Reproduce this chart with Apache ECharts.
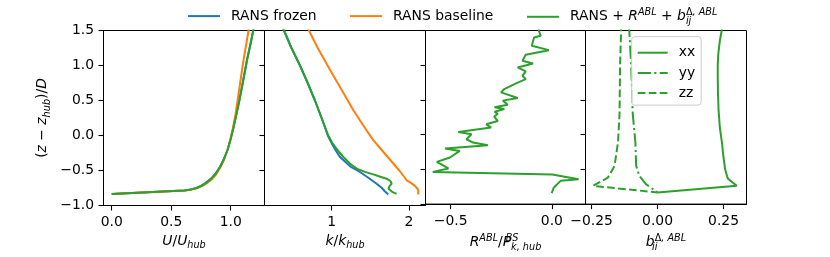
<!DOCTYPE html>
<html><head><meta charset="utf-8">
<script src="https://cdn.jsdelivr.net/npm/echarts@6/dist/echarts.min.js"></script>
<style>html,body{margin:0;padding:0;background:#fff}#c{width:830px;height:257px}</style>
</head><body><div id="c"></div>
<script>
// ---------------- data ----------------
const nameFrozen = 'RANS frozen';
const nameBaseline = 'RANS baseline';
const nameABL = 'RANS + R^ABL + b_ij^Δ,ABL';
const compNames = ['xx', 'yy', 'zz'];

const yTicks = [-1.0, -0.5, 0.0, 0.5, 1.0, 1.5];
const uTicks = [0.0, 0.5, 1.0];
const kTicks = [1, 2];
const rTicks = [-0.5, 0.0];
const bTicks = [-0.25, 0.0, 0.25];

// panel 1: U/U_hub
const uZ        = [-0.835,-0.80,-0.785,-0.77,-0.75,-0.72,-0.68,-0.62,-0.55,-0.45,-0.35,-0.2,-0.05,0.1,0.3,0.5,0.7,0.9,1.1,1.3,1.5,1.6];
const uFrozen   = [0.0,0.43,0.61,0.665,0.71,0.75,0.787,0.833,0.871,0.909,0.939,0.974,0.999,1.021,1.047,1.072,1.095,1.117,1.139,1.165,1.189,1.199];
const uBaseline = [0.0,0.43,0.61,0.675,0.72,0.762,0.80,0.845,0.88,0.915,0.943,0.975,0.998,1.018,1.04,1.058,1.075,1.092,1.11,1.13,1.15,1.16];
const uABL      = [0.0,0.43,0.61,0.67,0.715,0.755,0.79,0.835,0.872,0.91,0.94,0.975,1.0,1.022,1.048,1.073,1.096,1.118,1.14,1.166,1.19,1.2];

// panel 2: k/k_hub
const kFrozenZ = [1.6,1.5,1.25,1.0,0.75,0.5,0.25,0.0,-0.1,-0.2,-0.306,-0.4,-0.45,-0.521,-0.6,-0.689,-0.75,-0.8,-0.842];
const kFrozen  = [0.34,0.383,0.48,0.59,0.69,0.784,0.87,0.95,0.995,1.045,1.107,1.2,1.25,1.366,1.47,1.582,1.65,1.69,1.733];
const kBaselineZ = [1.6,1.5,1.25,0.94,0.65,0.365,0.1,-0.066,-0.2,-0.4,-0.5,-0.6,-0.64,-0.68,-0.72,-0.775,-0.842];
const kBaseline  = [0.66,0.706,0.82,0.978,1.13,1.279,1.435,1.538,1.642,1.797,1.875,1.945,1.97,2.03,2.078,2.12,2.12];
const kABLZ = [1.6,1.5,1.25,1.0,0.75,0.5,0.25,0.0,-0.1,-0.2,-0.3,-0.4,-0.473,-0.52,-0.555,-0.59,-0.617,-0.65,-0.689,-0.72,-0.76,-0.785,-0.81,-0.833];
const kABL  = [0.34,0.383,0.48,0.59,0.69,0.784,0.87,0.956,1.005,1.07,1.145,1.235,1.323,1.43,1.538,1.63,1.711,1.76,1.776,1.75,1.735,1.733,1.79,1.84];

// panel 3: R^ABL / P^BS_k,hub
const rZ   = [1.56,1.496,1.424,1.40,1.28,1.217,1.151,1.065,1.026,0.968,0.911,0.849,0.80,0.738,0.657,0.609,0.527,0.49,0.432,0.394,0.37,0.33,0.30,0.26,0.197,0.149,0.102,0.039,0.006,-0.066,-0.114,-0.152,-0.2,-0.234,-0.329,-0.392,-0.487,-0.536,-0.573,-0.641,-0.665,-0.76,-0.842];
const rABL = [-0.06,-0.064,-0.055,-0.088,-0.099,-0.015,-0.129,-0.145,-0.093,-0.169,-0.129,-0.145,-0.129,-0.177,-0.235,-0.251,-0.169,-0.242,-0.218,-0.283,-0.235,-0.283,-0.267,-0.285,-0.267,-0.324,-0.300,-0.462,-0.397,-0.422,-0.389,-0.316,-0.528,-0.455,-0.503,-0.568,-0.511,-0.588,0.002,0.132,0.043,0.01,-0.001];

// panel 4: b_ii^{Δ,ABL}
const bxxZ = [1.6,1.5,1.35,1.16,1.0,0.825,0.6,0.365,0.1,-0.114,-0.3,-0.497,-0.631,-0.737,-0.832];
const bXX  = [0.245,0.243,0.236,0.23,0.228,0.228,0.229,0.231,0.236,0.244,0.249,0.256,0.266,0.30,0.0];
const byyZ = [1.6,1.5,1.0,0.3,-0.114,-0.45,-0.593,-0.713,-0.832];
const bYY  = [-0.107,-0.107,-0.1,-0.094,-0.084,-0.081,-0.069,-0.044,0.0];
const bzzZ = [1.6,1.5,1.0,0.3,-0.114,-0.45,-0.617,-0.737,-0.832];
const bZZ  = [-0.138,-0.138,-0.142,-0.144,-0.15,-0.163,-0.188,-0.244,0.0];

// ---------------- chart ----------------
const FONT = 'DejaVu Sans';
const FS = 13.9;
const SFS = 9.7;
const BLUE = '#1f77b4', ORANGE = '#ff7f0e', GREEN = '#2ca02c';

const zip = (xs, zs) => xs.map((x, i) => [x, zs[i]]);
const minus = s => s.replace('-', '\u2212');

const rich = {
  p:    {fontFamily: FONT, fontSize: FS, color: '#000', lineHeight: 18},
  i:    {fontFamily: FONT, fontSize: FS, color: '#000', lineHeight: 18, fontStyle: 'italic'},
  sup:  {fontFamily: FONT, fontSize: SFS, color: '#000', fontStyle: 'italic', verticalAlign: 'top', height: 9},
  supu: {fontFamily: FONT, fontSize: SFS, color: '#000', verticalAlign: 'top', height: 9},
  sup0: {fontFamily: FONT, fontSize: SFS, color: '#000', fontStyle: 'italic', verticalAlign: 'top', height: 9, width: 0},
  sub:  {fontFamily: FONT, fontSize: SFS, color: '#000', fontStyle: 'italic', verticalAlign: 'bottom', height: 9},
  sub0: {fontFamily: FONT, fontSize: SFS, color: '#000', fontStyle: 'italic', verticalAlign: 'bottom', height: 9, width: 0}
};

const gridDefs = [
  {left: 103.5, width: 161},
  {left: 264.5, width: 161},
  {left: 425.5, width: 160},
  {left: 585.5, width: 161}
];
const xRanges = [[-0.069, 1.284], [0.131, 2.214], [-0.624, 0.166], [-0.273, 0.337]];
const xTickSets = [uTicks, kTicks, rTicks, bTicks];
const xFmt = [v => minus(v.toFixed(1)), v => String(Math.round(v)), v => minus(v.toFixed(1)), v => minus(v.toFixed(2))];
const xNames = [
  '{i|U}{p|/}{i|U}{sub|hub}',
  '{i|k}{p|/}{i|k}{sub|hub}',
  '{i|R}{sup|ABL}{p|/}{i|P}{sup0|\u2009BS}{sub|k, hub}',
  '{i|b}{sub0|ii}{supu|\u0394}{sup|, ABL}'
];

const axLine = () => ({show: true, onZero: false, lineStyle: {color: '#000', width: 1}});
const axTick = () => ({show: true, length: 5, lineStyle: {color: '#000', width: 1.1}});

const grid = gridDefs.map(g => ({left: g.left, width: g.width, top: 30.5, height: 175, show: true,
  borderColor: '#000', borderWidth: 1}));

const xAxis = gridDefs.map((g, k) => ({
  type: 'value', gridIndex: k, min: xRanges[k][0], max: xRanges[k][1],
  axisLine: axLine(), splitLine: {show: false},
  axisTick: Object.assign(axTick(), {customValues: xTickSets[k]}),
  axisLabel: {show: true, margin: 10, fontFamily: FONT, fontSize: FS, color: '#000',
    customValues: xTickSets[k], formatter: xFmt[k], hideOverlap: false},
  name: xNames[k], nameLocation: 'middle', nameGap: 26,
  nameTextStyle: {rich: rich}
}));

const yAxis = gridDefs.map((g, k) => ({
  type: 'value', gridIndex: k, min: yTicks[0], max: yTicks[yTicks.length - 1], interval: 0.5,
  axisLine: axLine(), splitLine: {show: false},
  axisTick: axTick(),
  axisLabel: {show: k === 0, margin: 9.5, fontFamily: FONT, fontSize: FS, color: '#000',
    formatter: v => minus(v.toFixed(1))},
  name: k === 0 ? '{p|(}{i|z}{p| \u2212 }{i|z}{sub|hub}{p|)/}{i|D}' : '',
  nameLocation: 'middle', nameGap: 52, nameRotate: 90,
  nameTextStyle: {rich: rich}
}));

function line(name, k, data, color, type) {
  return {type: 'line', name: name, xAxisIndex: k, yAxisIndex: k, data: data,
    symbol: 'none', showSymbol: false, clip: true, silent: true, animation: false,
    color: color, lineStyle: {color: color, width: 2, type: type || 'solid'},
    emphasis: {disabled: true}};
}

const series = [
  line(nameFrozen, 0, zip(uFrozen, uZ), BLUE),
  line(nameBaseline, 0, zip(uBaseline, uZ), ORANGE),
  line(nameABL, 0, zip(uABL, uZ), GREEN),
  line(nameFrozen, 1, zip(kFrozen, kFrozenZ), BLUE),
  line(nameBaseline, 1, zip(kBaseline, kBaselineZ), ORANGE),
  line(nameABL, 1, zip(kABL, kABLZ), GREEN),
  line(nameABL, 2, zip(rABL, rZ), GREEN),
  line(compNames[0], 3, zip(bXX, bxxZ), GREEN, 'solid'),
  line(compNames[1], 3, zip(bYY, byyZ), GREEN, [13.3, 3.3, 2.1, 3.3]),
  line(compNames[2], 3, zip(bZZ, bzzZ), GREEN, [7.7, 3.3])
];

const hiddenSymbol = {opacity: 0, color: 'rgba(0,0,0,0)', borderColor: 'rgba(0,0,0,0)', borderWidth: 0};
const legTxt = {fontFamily: FONT, fontSize: FS, color: '#000', padding: [0, 0, 0, 6], rich: rich};
const topLeg = (nm, left, fmt) => ({
  data: [nm], left: left, top: 7.3, padding: 0, itemWidth: 32, itemHeight: 22,
  selectedMode: false, textStyle: legTxt, formatter: fmt, itemStyle: hiddenSymbol,
  lineStyle: {width: 2}
});

const option = {
  animation: false,
  grid: grid, xAxis: xAxis, yAxis: yAxis, series: series,
  legend: [
    topLeg(nameFrozen, 187),
    topLeg(nameBaseline, 349),
    topLeg(nameABL, 526, () => '{p|RANS + }{i|R}{sup|ABL}{p| + }{i|b}{sub0|ij}{supu|\u0394}{sup|, ABL}'),
    {data: compNames, orient: 'vertical', left: 631.7, top: 36.7, padding: [8, 6, 4, 5],
     itemWidth: 30, itemHeight: 16, itemGap: 4.2, selectedMode: false, itemStyle: hiddenSymbol,
     lineStyle: {width: 2},
     backgroundColor: 'rgba(255,255,255,0.8)', borderColor: '#cccccc', borderWidth: 1, borderRadius: 3,
     textStyle: {fontFamily: FONT, fontSize: FS, color: '#000', padding: [0, 0, 0, 6], lineHeight: 16}}
  ]
};

const chart = echarts.init(document.getElementById('c'), null, {renderer: 'canvas'});
chart.setOption(option);
</script></body></html>
